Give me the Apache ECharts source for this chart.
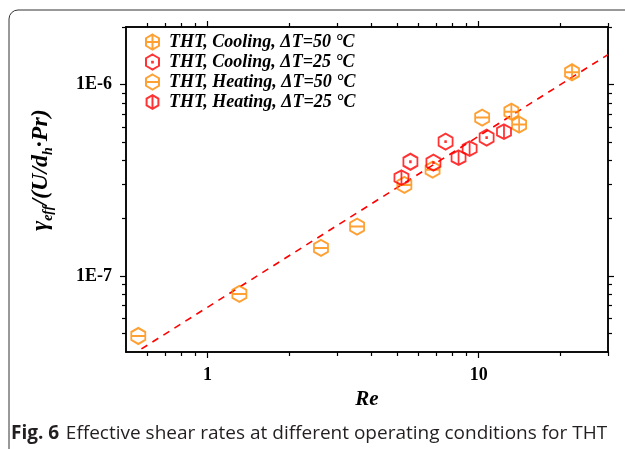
<!DOCTYPE html>
<html>
<head>
<meta charset="utf-8">
<script src="https://cdn.jsdelivr.net/npm/echarts@6/dist/echarts.min.js"></script>
<style>
  html, body { margin: 0; padding: 0; background: #fff; }
  #chart { width: 625px; height: 449px; }
</style>
</head>
<body>
<div id="chart"></div>
<script>
// data
const cool50Re = [13.2, 14.1, 22.1];
const cool50Val = [7.22e-7, 6.18e-7, 1.16e-6];
const cool25Re = [5.60, 6.81, 7.55, 10.7];
const cool25Val = [3.95e-7, 3.91e-7, 5.03e-7, 5.28e-7];
const heat50Re = [0.555, 1.31, 2.62, 3.56, 5.32, 6.76, 10.3];
const heat50Val = [4.85e-8, 8.05e-8, 1.40e-7, 1.81e-7, 2.99e-7, 3.59e-7, 6.72e-7];
const heat25Re = [5.19, 8.43, 9.26, 12.4];
const heat25Val = [3.26e-7, 4.15e-7, 4.63e-7, 5.67e-7];
// dashed fit line end points
const fitRe = [0.57, 30];
const fitVal = [4.15e-8, 1.435e-6];

const seriesNames = ['THT, Cooling, ΔT=50 °C', 'THT, Cooling, ΔT=25 °C', 'THT, Heating, ΔT=50 °C', 'THT, Heating, ΔT=25 °C'];

// ticks
const xMajor = [1, 10];
const xMinor = [0.6, 0.7, 0.8, 0.9, 2, 3, 4, 5, 6, 7, 8, 9, 20, 30];
const yMajor = [1e-7, 1e-6];
const yMajorText = ['1E-7', '1E-6'];
const yMinor = [5e-8, 6e-8, 7e-8, 8e-8, 9e-8, 2e-7, 3e-7, 4e-7, 5e-7, 6e-7, 7e-7, 8e-7, 9e-7, 2e-6];

const pairs = (xs, ys) => xs.map((x, i) => [x, ys[i]]);

// hexagon symbols (pointy top)
const hex = 'M8.66 0 L17.32 5 L17.32 15 L8.66 20 L0 15 L0 5 Z';
const symPlus = 'path://' + hex + ' M0 10 L17.32 10 M8.66 0 L8.66 20';
const symDot = 'path://' + hex + ' M8.2 9.5 L9.1 9.5 L9.1 10.5 L8.2 10.5 Z';
const symMinus = 'path://' + hex + ' M0 10 L17.32 10';
const symVert = 'path://' + hex + ' M8.66 -1 L8.66 21';

const ORANGE = '#ff8800';
const RED = '#ff0000';
const serif = 'Liberation Serif';

function scatter(name, data, sym, color, z) {
  return {
    name: name,
    type: 'scatter',
    data: data,
    symbol: sym,
    symbolSize: [14, 16],
    symbolKeepAspect: false,
    z: z,
    itemStyle: { color: 'rgba(0,0,0,0)', borderColor: color, borderWidth: 1.9 }
  };
}

function xAx(pos, ticks, len, labels) {
  return {
    type: 'log', logBase: 10, min: 0.5, max: 30, position: pos,
    axisLine: { show: true, onZero: false, lineStyle: { color: '#000', width: 1.5 } },
    axisTick: { show: true, inside: false, length: len, customValues: ticks, lineStyle: { color: '#000', width: 1.2 } },
    axisLabel: labels ? {
      show: true, customValues: xMajor, margin: 14,
      color: '#000', fontFamily: serif, fontWeight: 'bold', fontSize: 18
    } : { show: false },
    splitLine: { show: false }
  };
}

function yAx(pos, ticks, len, labels) {
  return {
    type: 'log', logBase: 10, min: 4e-8, max: 2e-6, position: pos,
    axisLine: { show: true, onZero: false, lineStyle: { color: '#000', width: 1.5 } },
    axisTick: { show: true, inside: false, length: len, customValues: ticks, lineStyle: { color: '#000', width: 1.2 } },
    axisLabel: labels ? {
      show: true, customValues: yMajor, margin: 14,
      color: '#000', fontFamily: serif, fontWeight: 'bold', fontSize: 18,
      formatter: v => yMajorText[yMajor.findIndex(m => Math.abs(m - v) / m < 1e-6)]
    } : { show: false },
    splitLine: { show: false }
  };
}

const chart = echarts.init(document.getElementById('chart'));

const xAxes = [xAx('bottom', xMajor, 6, true), xAx('bottom', xMinor, 4, false), xAx('top', xMajor, 6, false), xAx('top', xMinor, 4, false)];
xAxes[0].name = 'Re';
xAxes[0].nameLocation = 'middle';
xAxes[0].nameGap = 36;
xAxes[0].nameTextStyle = { color: '#000', fontFamily: serif, fontWeight: 'bold', fontStyle: 'italic', fontSize: 21 };

const yAxes = [yAx('left', yMajor, 6, true), yAx('left', yMinor, 4, false), yAx('right', yMajor, 6, false), yAx('right', yMinor, 4, false)];

const gStyle = { fill: '#000', fontFamily: serif, fontWeight: 'bold', fontStyle: 'italic', fontSize: 24 };
const sStyle = { fill: '#000', fontFamily: serif, fontWeight: 'bold', fontStyle: 'italic', fontSize: 14, padding: [14, 0, 0, 0] };

chart.setOption({
  backgroundColor: '#fff',
  animation: false,
  grid: { left: 126, right: 17, top: 27, bottom: 97 },
  xAxis: xAxes,
  yAxis: yAxes,
  legend: {
    data: seriesNames,
    orient: 'vertical',
    left: 140, top: 28,
    itemWidth: 13, itemHeight: 15, itemGap: 2,
    textStyle: { color: '#000', fontFamily: serif, fontWeight: 'bold', fontStyle: 'italic', fontSize: 18, lineHeight: 18, padding: [0, 0, 0, 5] }
  },
  graphic: [
    { type: 'rect', shape: { x: 9, y: 10, width: 700, height: 600, r: 9 }, style: { fill: 'none', stroke: '#333', lineWidth: 1 }, silent: true },
    {
      type: 'text', x: 41, y: 170, rotation: Math.PI / 2,
      style: {
        text: '{g|γ}{s|eff}{g|/(U/d}{s|h}{g|·Pr)}',
        align: 'center', verticalAlign: 'middle',
        rich: { g: gStyle, s: sStyle }
      }
    },
    {
      type: 'text', left: 11, top: 424,
      style: {
        text: '{b|Fig. 6}  {r|Effective shear rates at different operating conditions for THT}',
        rich: {
          b: { fontFamily: 'Open Sans', fontWeight: 'bold', fontSize: 19, fill: '#231f20' },
          r: { fontFamily: 'Open Sans', fontSize: 19, fill: '#231f20' }
        }
      }
    }
  ],
  series: [
    {
      type: 'line', data: pairs(fitRe, fitVal), symbol: 'none', z: 1, silent: true,
      lineStyle: { color: RED, width: 1.6, type: [7, 6] }
    },
    scatter(seriesNames[0], pairs(cool50Re, cool50Val), symPlus, ORANGE, 3),
    scatter(seriesNames[1], pairs(cool25Re, cool25Val), symDot, RED, 4),
    scatter(seriesNames[2], pairs(heat50Re, heat50Val), symMinus, ORANGE, 2),
    scatter(seriesNames[3], pairs(heat25Re, heat25Val), symVert, RED, 4)
  ]
});
</script>
</body>
</html>
